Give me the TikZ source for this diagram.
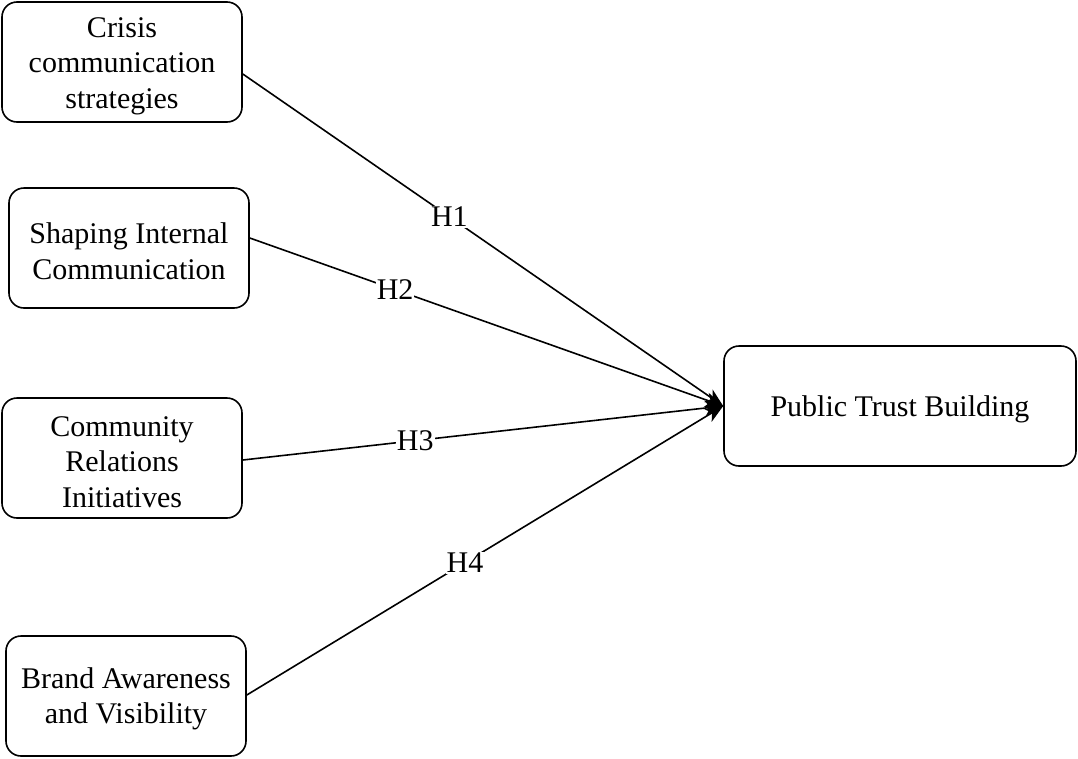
\documentclass[tikz,border=0pt]{standalone}
\usepackage{fontspec}
\setmainfont{Liberation Serif}
\usetikzlibrary{arrows.meta}
\begin{document}
\begin{tikzpicture}[x=1pt,y=-1pt,
  box/.style={draw=black, line width=1.6pt, rounded corners=15pt, minimum height=120pt,
    inner sep=0pt},
  txt/.style={inner sep=0pt, align=center, font=\fontsize{30}{35.5}\selectfont},
  link/.style={draw=black, line width=1.6pt, -{Stealth[length=18pt,width=15pt,inset=5pt]}},
  lbl/.style={fill=white, inner sep=1pt, font=\fontsize{30}{35.5}\selectfont}]
\useasboundingbox (0,0) rectangle (1078,758);
\node[box, minimum width=240pt] (b1) at (122,62) {};
\node[box, minimum width=240pt] (b2) at (129,248) {};
\node[box, minimum width=240pt] (b3) at (122,458) {};
\node[box, minimum width=240pt] (b4) at (126,696) {};
\node[box, minimum width=352pt] (t) at (900,406) {};
\node[txt] (tb1) at ([yshift=-4pt]b1.center) {Crisis\\communication\\strategies};
\node[txt] (tb2) at ([yshift=-3pt]b2.center) {Shaping Internal\\Communication};
\node[txt] (tb3) at ([yshift=-4pt]b3.center) {Community\\Relations\\Initiatives};
\node[txt] (tb4) at ([yshift=-3pt]b4.center) {Brand Awareness\\and Visibility};
\node[txt] (tt) at ([yshift=-3pt]t.center) {Public Trust Building};
\draw[link] ([yshift=-12pt]b1.east) -- node[lbl, pos=0.43] {H1} (t.west);
\draw[link] ([yshift=10pt]b2.east) -- node[lbl, pos=0.307] {H2} (t.west);
\draw[link] ([yshift=-2pt]b3.east) -- node[lbl, pos=0.359] {H3} (t.west);
\draw[link] ([yshift=1pt]b4.east) -- node[lbl, pos=0.458] {H4} (t.west);
\end{tikzpicture}
\end{document}
